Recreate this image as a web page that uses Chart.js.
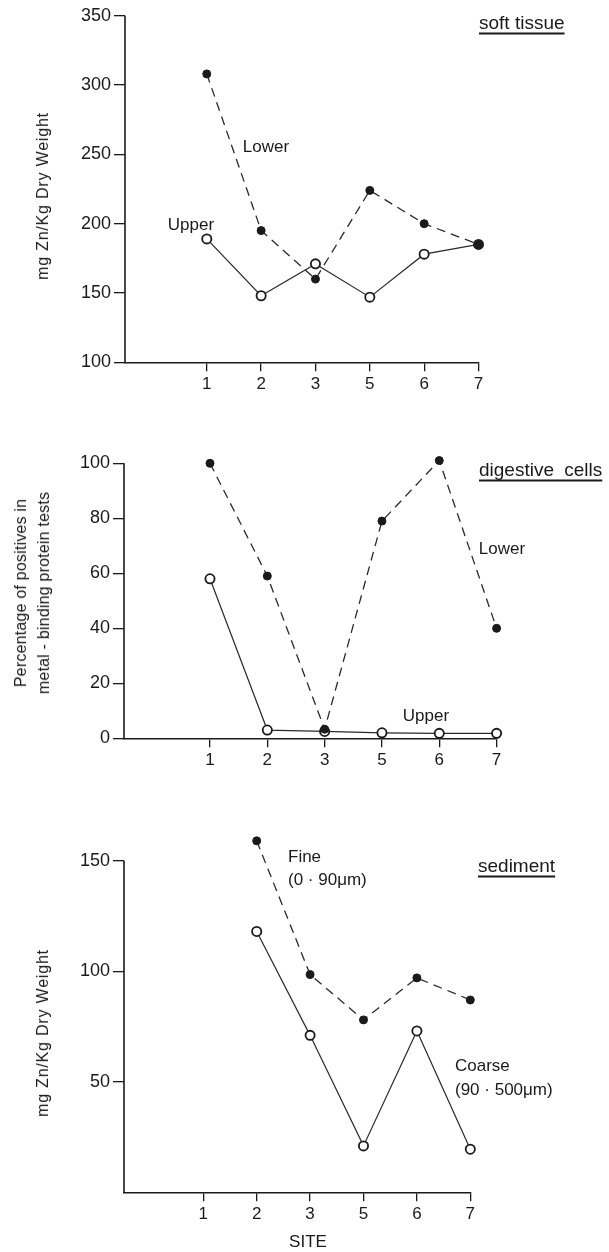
<!DOCTYPE html>
<html>
<head>
<meta charset="utf-8">
<script src="https://cdn.jsdelivr.net/npm/chart.js@4.4.1/dist/chart.umd.min.js"></script>
<style>
  body { margin: 0; background: #fff; }
  #page { position: relative; width: 609px; height: 1252px; overflow: hidden; font-family: "Liberation Sans", Arial, sans-serif; color: #1a1a1a; }
  canvas { position: absolute; left: 0; }
  .lbl { position: absolute; white-space: nowrap; line-height: 1; font-size: 17px; transform: translateY(-50%); z-index: 2; }
  .mid { transform: translate(-50%, -50%); }
  .rot { transform: translate(-50%, -50%) rotate(-90deg); text-align: center; font-size: 16px; letter-spacing: 0.8px; }
  .ttl { font-size: 19px; text-decoration: underline; text-underline-offset: 4px; text-decoration-thickness: 1.5px; }
</style>
</head>
<body>
<div id="page">
  <canvas id="c1" width="609" height="420" style="top:0px"></canvas>
  <canvas id="c2" width="609" height="395" style="top:420px"></canvas>
  <canvas id="c3" width="609" height="437" style="top:815px"></canvas>

  <div class="lbl ttl" style="left:479px; top:22px">soft tissue</div>
  <div class="lbl mid" style="left:266px; top:146px">Lower</div>
  <div class="lbl mid" style="left:191px; top:224px">Upper</div>
  <div class="lbl rot" style="left:43px; top:196px">mg Zn/Kg Dry Weight</div>

  <div class="lbl ttl" style="left:479px; top:469px; word-spacing:5px">digestive cells</div>
  <div class="lbl mid" style="left:502px; top:548px">Lower</div>
  <div class="lbl mid" style="left:426px; top:715px">Upper</div>
  <div class="lbl rot" style="left:32px; top:593px; line-height:23px; letter-spacing:0.2px">Percentage of positives in<br>metal - binding protein tests</div>

  <div class="lbl ttl" style="left:478px; top:865px">sediment</div>
  <div class="lbl" style="left:288px; top:856px">Fine</div>
  <div class="lbl" style="left:288px; top:879px">(0 · 90μm)</div>
  <div class="lbl" style="left:455px; top:1065px">Coarse</div>
  <div class="lbl" style="left:455px; top:1089px">(90 · 500μm)</div>
  <div class="lbl rot" style="left:43px; top:1033px">mg Zn/Kg Dry Weight</div>
  <div class="lbl mid" style="left:308px; top:1241px">SITE</div>
</div>

<script>
// sites along the bottom, plotted at even positions
var sites = ['1', '2', '3', '5', '6', '7'];
var sitePos = [1, 2, 3, 4, 5, 6];

// soft tissue, mg Zn/Kg
var softLower = [308, 195, 160, 224, 200, 185];
var softUpper = [189, 148, 171, 147, 178, 185];
var softTicks = [100, 150, 200, 250, 300, 350];

// digestive cells, % positives
var digLower = [100, 59, 3.3, 79, 101, 40];
var digUpper = [58, 3, 2.5, 2, 1.8, 1.8];
var digTicks = [0, 20, 40, 60, 80, 100];

// sediment, mg Zn/Kg
var sedFine = [null, 159, 98.5, 78, 97, 87];
var sedCoarse = [null, 118, 71, 21, 73, 19.5];
var sedTicks = [50, 100, 150];

var ink = '#1a1a1a';
Chart.defaults.font.family = '"Liberation Sans", Arial, sans-serif';
Chart.defaults.color = ink;

// y axis line only from the top tick down (sediment data go above it)
var yAxisLine = {
    id: 'yAxisLine',
    afterDraw: function (chart, args, opts) {
        var ctx = chart.ctx, area = chart.chartArea;
        var top = chart.scales.y.getPixelForValue(opts.from);
        ctx.save();
        ctx.strokeStyle = ink;
        ctx.lineWidth = 1.6;
        ctx.beginPath();
        ctx.moveTo(area.left, top);
        ctx.lineTo(area.left, area.bottom);
        ctx.stroke();
        ctx.restore();
    }
};

function pts(values) {
    return values.map(function (v, i) { return { x: sitePos[i], y: v }; });
}

function filled(values, order) {
    return {
        data: pts(values), order: order,
        borderColor: '#2a2a2a', borderWidth: 1.3, borderDash: [9, 6],
        pointRadius: 4, pointBackgroundColor: ink, pointBorderColor: ink, pointBorderWidth: 1,
        clip: false, spanGaps: true
    };
}

function open(values, order) {
    return {
        data: pts(values), order: order,
        borderColor: '#2a2a2a', borderWidth: 1.2,
        pointRadius: 4.6, pointBackgroundColor: '#fff', pointBorderColor: ink, pointBorderWidth: 1.8,
        clip: false, spanGaps: true
    };
}

function makePanel(id, datasets, yTicks, yMin, yMax, xMin, axisLeft, pad) {
    return new Chart(document.getElementById(id), {
        type: 'line',
        data: { datasets: datasets },
        plugins: [yAxisLine],
        options: {
            responsive: false,
            animation: false,
            events: [],
            layout: { padding: pad },
            plugins: {
                legend: { display: false },
                tooltip: { enabled: false },
                yAxisLine: { from: yTicks[yTicks.length - 1] }
            },
            scales: {
                x: {
                    type: 'linear', min: xMin, max: 6,
                    afterBuildTicks: function (axis) { axis.ticks = sitePos.map(function (v) { return { value: v }; }); },
                    afterFit: function (axis) { axis.height = 40; },
                    ticks: {
                        autoSkip: false, maxRotation: 0, padding: 3, color: ink,
                        font: { size: 17 },
                        callback: function (v) { return sites[v - 1]; }
                    },
                    grid: { drawOnChartArea: false, drawTicks: true, tickLength: 9, color: ink, lineWidth: 1.3 },
                    border: { display: true, color: ink, width: 1.6 }
                },
                y: {
                    min: yMin, max: yMax,
                    afterBuildTicks: function (axis) { axis.ticks = yTicks.map(function (v) { return { value: v }; }); },
                    afterFit: function (axis) { axis.width = axisLeft; },
                    ticks: { padding: 3, color: ink, font: { size: 18 } },
                    grid: { drawOnChartArea: false, drawTicks: true, tickLength: 11, color: ink, lineWidth: 1.3 },
                    border: { display: false }
                }
            }
        }
    });
}

makePanel('c1', [filled(softLower, 0), open(softUpper, 1)], softTicks, 100, 350, -0.505, 125,
    { left: 0, right: 130.5, top: 15.7, bottom: 17.7 });
makePanel('c2', [filled(digLower, 0), open(digUpper, 1)], digTicks, 0, 104, -0.5, 124,
    { left: 0, right: 112.4, top: 32.3, bottom: 36.7 });
makePanel('c3', [filled(sedFine, 1), open(sedCoarse, 0)], sedTicks, 0, 163, -0.485, 124,
    { left: 0, right: 138.7, top: 17.0, bottom: 19.7 });
</script>
</body>
</html>
